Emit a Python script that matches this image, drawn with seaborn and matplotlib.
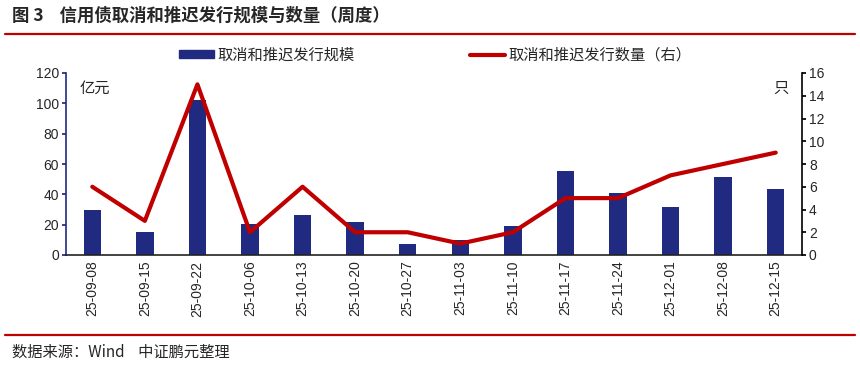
import numpy as np
import pandas as pd
import matplotlib
matplotlib.use("Agg")
import matplotlib.pyplot as plt
import seaborn as sns
from matplotlib.patches import Patch
from matplotlib.lines import Line2D

weeks = ["25-09-08", "25-09-15", "25-09-22", "25-10-06", "25-10-13", "25-10-20", "25-10-27",
         "25-11-03", "25-11-10", "25-11-17", "25-11-24", "25-12-01", "25-12-08", "25-12-15"]
scale = [29.5, 15.4, 102, 20.4, 26.4, 22, 7.5, 9.9, 19.3, 55.4, 41, 31.6, 51.6, 43.5]
count = [6, 3, 15, 2, 6, 2, 2, 1, 2, 5, 5, 7, 8, 9]
left_ticks = [0, 20, 40, 60, 80, 100, 120]
right_ticks = [0, 2, 4, 6, 8, 10, 12, 14, 16]

bar_label = "取消和推迟发行规模"
line_label = "取消和推迟发行数量（右）"
title = "图 3    信用债取消和推迟发行规模与数量（周度）"
source = "数据来源：Wind    中证鹏元整理"

sns.set_theme(style="white")
plt.rcParams['font.family'] = ['Liberation Sans', 'Noto Sans CJK SC', 'DejaVu Sans']

NAVY = "#1f2a80"
RED = "#c00000"

df = pd.DataFrame({"week": weeks, "scale": scale, "count": count})

fig = plt.figure(figsize=(8.6, 3.65), dpi=100)
ax = fig.add_axes([66/860, 1-255/365, (802-66)/860, (255-73)/365])
sns.barplot(data=df, x="week", y="scale", color=NAVY, width=0.33, saturation=1,
            linewidth=0, ax=ax, zorder=2)
ax.set_xlim(-0.5, len(weeks)-0.5)
ax.set_ylim(0, 120)
ax.set_yticks(left_ticks)
ax.set_xlabel("")
ax.set_ylabel("")
ax.tick_params(axis='y', labelsize=10, length=3, direction='out', color=NAVY, left=True, pad=2)
ax.tick_params(axis='x', labelsize=10, length=0, rotation=90, pad=4)
for s in ["top", "right"]:
    ax.spines[s].set_visible(False)
ax.spines["left"].set_color(NAVY)
ax.spines["bottom"].set_color("#222222")
ax.spines["left"].set_linewidth(1.2)
ax.spines["bottom"].set_linewidth(1.2)

ax2 = ax.twinx()
sns.lineplot(x=np.arange(len(weeks)), y=count, color=RED, linewidth=3, ax=ax2, zorder=3)
ax2.set_ylim(0, 16)
ax2.set_yticks(right_ticks)
ax2.tick_params(axis='y', labelsize=10, length=3, direction='out', color="black", right=True, pad=2)
for s in ["top", "left", "bottom"]:
    ax2.spines[s].set_visible(False)
ax2.spines["right"].set_color("black")
ax2.spines["right"].set_linewidth(1.2)
ax2.set_xlim(-0.5, len(weeks)-0.5)

ax.text(0.018, 0.96, "亿元", transform=ax.transAxes, fontsize=11, va='top', ha='left',
        family=['Noto Sans CJK SC'])
ax.text(0.982, 0.96, "只", transform=ax.transAxes, fontsize=11, va='top', ha='right',
        family=['Noto Sans CJK SC'])

handles = [Patch(facecolor=NAVY, edgecolor=NAVY), Line2D([0], [0], color=RED, linewidth=3)]
leg = fig.legend(handles, [bar_label, line_label], loc='center', bbox_to_anchor=(0.506, 1-55/365),
                 ncol=2, frameon=False, handlelength=2.3, handleheight=0.45,
                 columnspacing=7.6, handletextpad=0.2, prop={'family': ['Noto Sans CJK SC'], 'size': 11})

fig.text(12/860, 1-16/365, title, fontsize=12.5, fontweight='bold', va='center', ha='left',
         family=['Noto Sans CJK SC'])
fig.add_artist(Line2D([5/860, 855/860], [1-34/365, 1-34/365], color=RED, linewidth=1.6))
fig.add_artist(Line2D([5/860, 855/860], [1-335/365, 1-335/365], color=RED, linewidth=1.6))
fig.text(12/860, 1-352/365, source, fontsize=11, va='center', ha='left',
         family=['Noto Sans CJK SC'])

fig.savefig("out.png", dpi=100)
